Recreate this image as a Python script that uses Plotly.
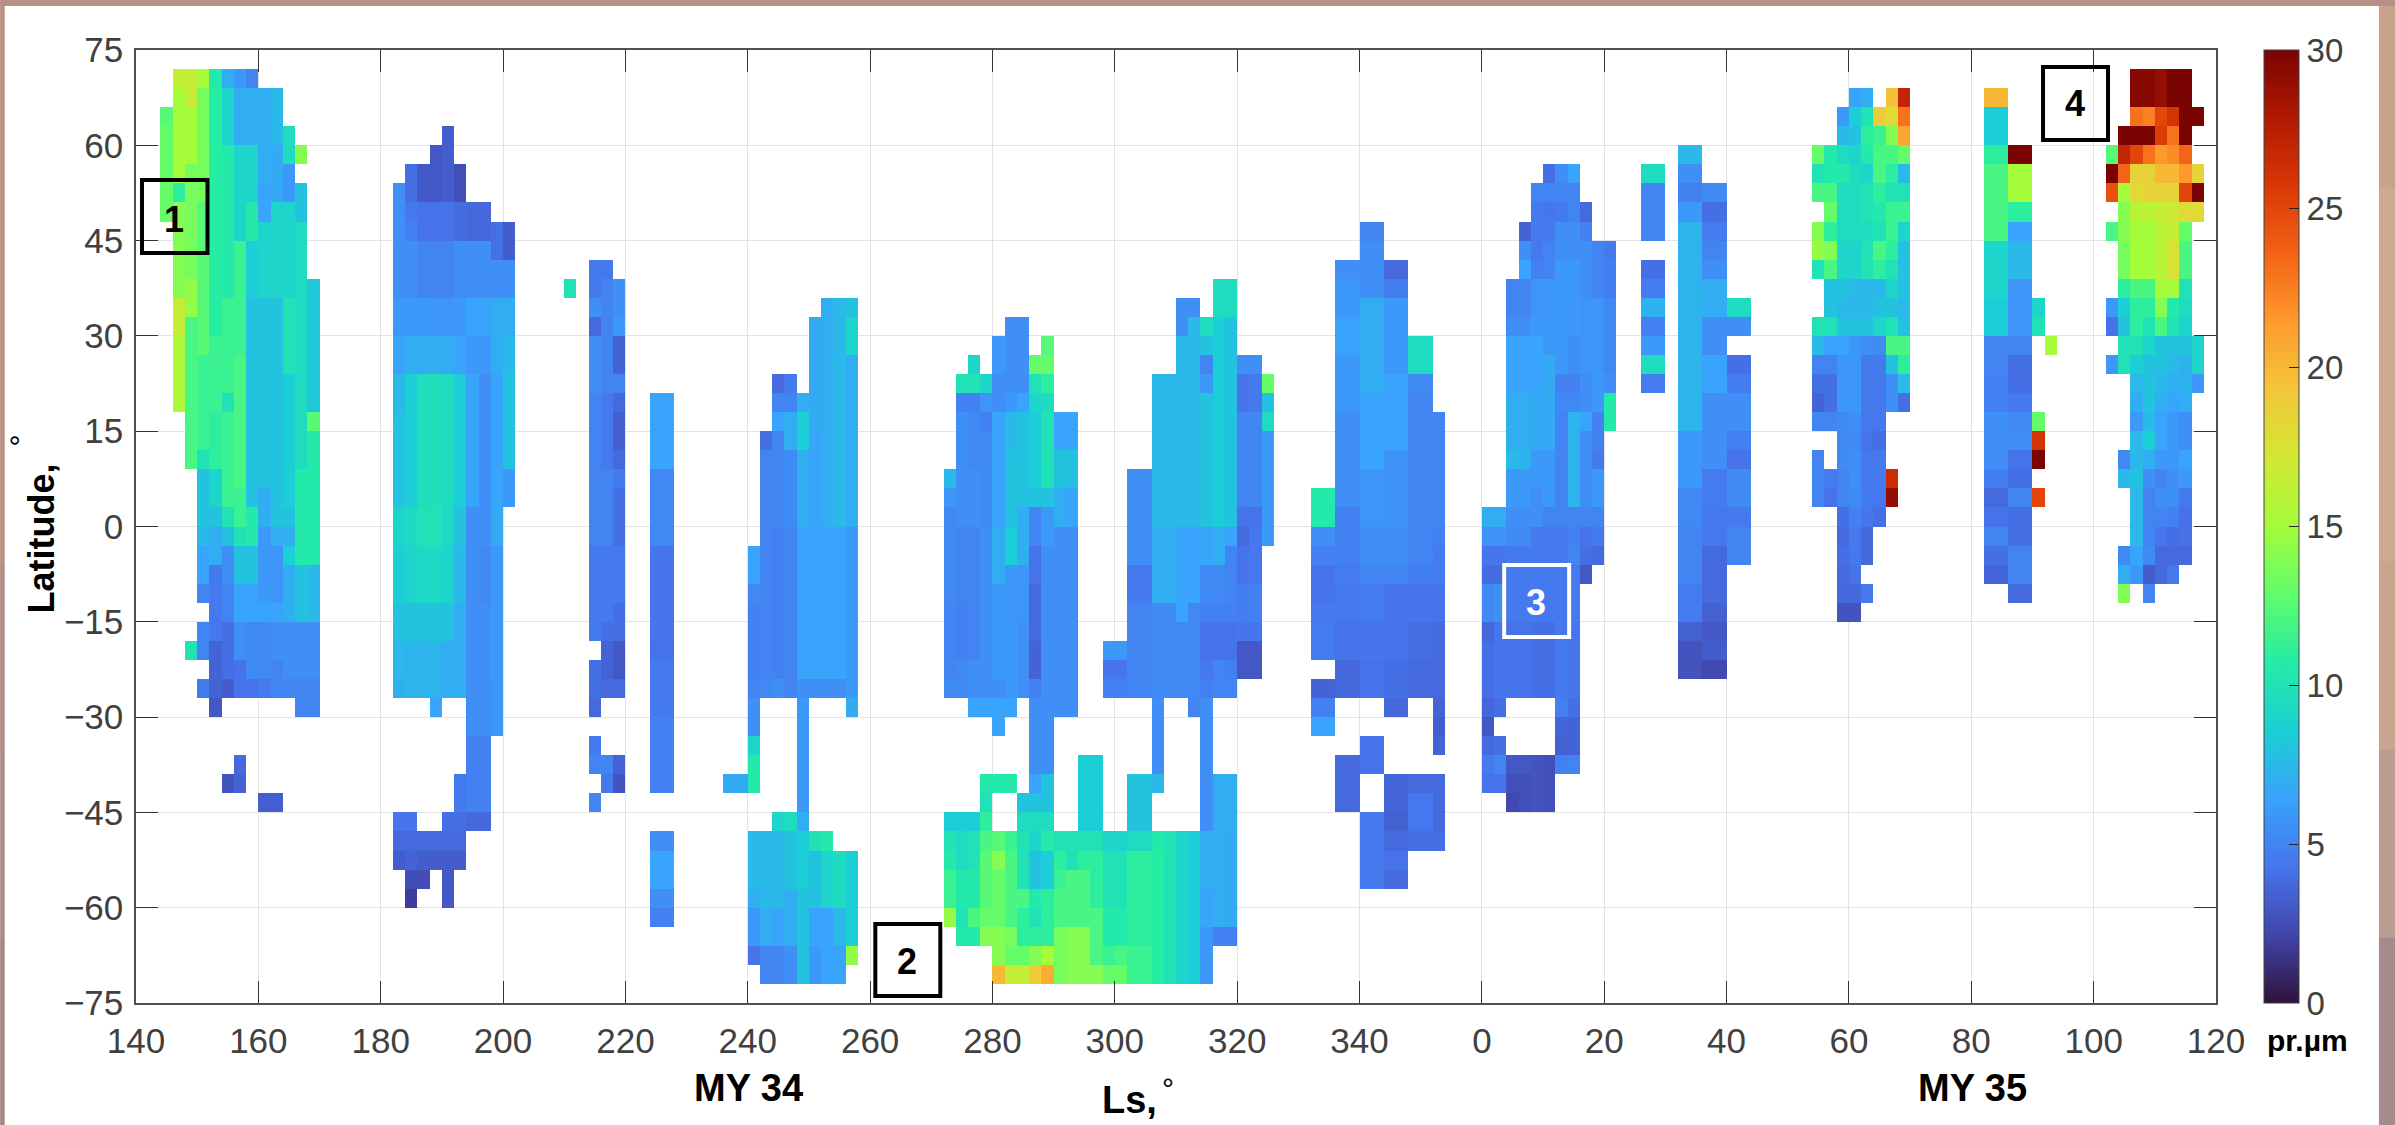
import numpy as np
import plotly.graph_objects as go

W, H = 2395, 1125
L, R, T, B = 135.5, 2216, 50, 1003

ls_tick_values = list(range(140, 481, 20))
ls_tick_labels = ['140','160','180','200','220','240','260','280','300','320','340','0','20','40','60','80','100','120']
lat_ticks = list(range(-75, 76, 15))
cbar_ticks = [0, 5, 10, 15, 20, 25, 30]

# Column form: continuous Ls column start -> flat triples (lat_high, lat_low, pr.um)
swath_a = {
 144:[66,63,12.5, 63,48,13],
 146:[72,69,16.5, 69,54,15, 54,51,11, 51,36,14, 36,30,16.5, 30,18,15.5],
 148:[72,66,16.5, 66,57,15, 57,39,13.5, 39,33,14.5, -18,-21,10, 33,9,12],
 150:[72,69,15, 69,51,13.5, 51,27,12.5, 27,12,11.5, 12,9,10, 9,0,8, 0,-3,7.5, -3,-9,6.5, -9,-12,5, -15,-21,5, -24,-27,4.5],
 152:[72,69,10.5, 69,30,10.8, 30,18,11.5, 18,9,11, 9,3,9, 3,0,8, 0,-6,7, -6,-18,4.5, -18,-27,3.5, -27,-30,3],
 154:[72,69,7, 69,60,9, 60,36,10.5, 36,21,11.5, 21,18,10, 18,3,11.5, 3,0,10, 0,-3,8, -3,-9,5.5, -9,-15,5, -15,-24,4, -24,-27,3.2, -39,-42,2.8],
 156:[72,69,6, 69,60,7, 60,45,9, 45,27,11.5, 27,6,12, 6,0,11.5, 0,-3,10, -3,-9,8, -9,-15,6.5, -15,-21,5.5, -21,-27,4.2, -36,-39,3.8, -39,-42,3.5],
 158:[72,69,5, 69,60,7, 60,51,9, 51,45,10.5, 45,36,8.5, 36,3,8, 3,-3,10.5, -3,-9,8, -9,-15,6.5, -15,-24,5.3, -24,-27,4.2],
 160:[69,54,7, 54,48,6.5, 48,36,9, 36,6,8, 6,0,7, 0,-12,6, -12,-15,6.5, -15,-24,5.3, -24,-27,4.5, -42,-45,3.3],
 162:[69,60,7.5, 60,51,6.8, 51,36,9, 36,0,8, 0,-3,7, -3,-12,5.8, -12,-15,6.5, -15,-21,5.5, -21,-27,5, -42,-45,3.3],
 164:[63,57,9.5, 57,51,6, 51,36,9, 36,24,10, 24,3,8.5, 3,0,8, 0,-3,7, -3,-6,8.5, -6,-15,7, -15,-24,5.5, -24,-27,5],
 166:[60,57,14, 54,48,8, 48,21,9.5, 21,9,9.5, 9,-6,10.5, -6,-15,8, -15,-24,5.5, -24,-30,5],
 168:[39,18,8.3, 18,15,12.5, 15,-6,10.5, -6,-15,7.5, -15,-24,5.5, -24,-30,5],
}
swath_b = {
 182:[54,36,5.5, 36,30,6, 30,24,6.5, 24,18,7.5, 18,3,8, 3,-3,9, -3,-12,8.5, -12,-18,8, -18,-24,7.5, -24,-27,7, -45,-48,4.3, -48,-51,3.8, -51,-54,3.2],
 184:[57,54,4, 54,51,4, 51,48,4.5, 48,45,4.8, 45,36,5.5, 36,30,6, 30,24,7, 24,3,8.5, 3,-3,9.3, -3,-12,9, -12,-18,8, -18,-27,7.3, -45,-48,4.3, -48,-51,3.8, -51,-54,3.5, -54,-57,2.5, -57,-60,1.8],
 186:[57,51,3.1, 51,45,4.2, 45,36,5, 36,30,6, 30,24,7, 24,3,9.7, 3,-3,10, -3,-12,9.3, -12,-18,8, -18,-27,7.3, -48,-51,3.8, -51,-54,3.2, -54,-57,2.5],
 188:[60,51,3, 51,45,4.2, 45,36,5, 36,30,5.8, 30,24,7, 24,3,9.8, 3,-3,10, -3,-12,9.3, -12,-18,8, -18,-27,7.3, -27,-30,6.5, -48,-51,3.8, -51,-54,3.2],
 190:[63,57,3.2, 57,51,3.2, 51,45,4.2, 45,36,5, 36,30,5.8, 30,24,7, 24,3,9.5, 3,-3,9.3, -3,-12,9, -12,-18,8, -18,-27,7, -45,-48,4, -48,-51,3.8, -51,-54,3.2, -54,-60,3],
 192:[57,51,2.6, 51,45,3.9, 45,36,5.5, 36,30,6, 30,24,6.5, 24,3,8.5, 3,-3,8, -3,-12,7.5, -12,-27,7, -39,-45,4.5, -45,-48,4, -48,-51,3.8, -51,-54,3.2],
 194:[51,45,3.7, 45,36,5.5, 36,30,6.5, 30,24,6, 24,3,6.5, 3,-12,5.5, -12,-27,5.5, -27,-33,5.5, -33,-39,4.8, -39,-45,4.8, -45,-48,3.7],
 196:[51,45,3.7, 45,36,5.5, 36,30,6.5, 30,24,6, 24,3,5.5, 3,-3,5.5, -3,-12,5.3, -12,-27,5.5, -27,-33,5.5, -33,-39,4.8, -39,-45,4.8, -45,-48,3.7],
 198:[48,42,4, 42,36,5.5, 36,30,7, 30,24,7, 24,3,6.5, 3,-3,6.8, -3,-24,6, -24,-33,5.9],
 200:[48,42,3.2, 42,36,5.5, 36,30,7, 30,24,7.5, 24,9,8, 9,3,6],
 210:[39,36,10],
}
swath_c = {
 214:[42,36,4.5, 36,33,5.5, 33,30,3.8, 30,21,5.5, 21,12,5, 12,0,5, 0,-3,5, -3,-18,4.5, -21,-27,4, -27,-30,3.8, -33,-36,4.5, -36,-39,5, -42,-45,5],
 216:[42,39,4.5, 39,21,5, 21,9,4.5, 9,-3,5, -3,-15,4.5, -15,-18,4, -18,-24,3.5, -24,-27,3.8, -36,-39,5, -39,-42,4.5],
 218:[39,33,5.5, 33,30,6, 30,24,3.5, 24,21,5, 21,18,3.8, 18,12,3.3, 12,9,3.8, 9,6,4.5, 6,-3,4, -3,-12,4.5, -12,-18,4, -18,-24,3, -24,-27,3.8, -36,-39,3.5, -39,-42,2.8],
 (224,226):[21,9,6.5, 9,-3,5.2, -3,-18,4.3, -18,-21,4.2, -21,-30,4.5, -30,-42,4.8, -48,-51,5.5, -51,-57,6.5, -57,-60,5.5, -60,-63,4.8],
}
swath_d = {
 (236,238):[-39,-42,6.8],
 240:[-3,-9,6.5, -9,-12,5.2, -12,-24,4.8, -24,-27,5, -27,-33,5.5, -33,-36,9, -36,-42,10.5, -48,-57,7.5, -57,-60,7, -60,-66,6, -66,-69,4.2],
 242:[15,12,4, 12,-24,5, -24,-27,5.2, -48,-60,7.5, -60,-66,7, -66,-72,5],
 244:[24,21,3.8, 21,18,5, 18,15,6.5, 15,0,5, 0,-24,4.8, -24,-27,5.5, -45,-48,9, -48,-60,7.5, -60,-66,6.5, -66,-72,5],
 246:[24,21,4.5, 21,18,5, 18,12,7, 12,0,5.3, 0,-27,5, -45,-48,9.5, -48,-57,8, -57,-66,7, -66,-72,5.5],
 248:[21,18,7, 18,12,8.5, 12,0,7, 0,-24,6.5, -24,-27,5.5, -27,-45,6, -45,-48,7, -48,-57,8.5, -57,-72,8],
 250:[33,15,6.8, 15,-24,6.5, -24,-27,5.5, -48,-51,10, -51,-60,8, -60,-66,6.5, -66,-72,6],
 252:[36,0,7, 0,-24,6.5, -24,-27,5.5, -48,-51,10.5, -51,-60,9, -60,-72,6.5],
 254:[36,0,7.5, 0,-24,6.5, -24,-27,5.5, -51,-60,9.5, -60,-66,7.5, -66,-72,6.5],
 256:[36,33,8, 33,27,9, 27,0,7, 0,-27,6, -27,-30,6.8, -51,-66,8.5, -66,-69,14.5],
}
swath_e = {
 272:[9,6,7.5, 6,3,6, 3,-12,5.2, -12,-24,5, -24,-27,5.3, -45,-48,8.5, -48,-51,10, -51,-54,10.5, -54,-60,11.5, -60,-63,14.5],
 274:[24,21,10, 21,18,4.8, 18,0,5.5, 0,-12,5, -12,-21,4.8, -21,-27,5.2, -45,-48,8.5, -48,-54,9.5, -54,-60,10.5, -60,-63,10, -63,-66,10.5],
 276:[27,24,9, 24,21,10, 21,18,4.8, 18,9,5.2, 9,0,5.5, 0,-21,5, -21,-27,5.5, -27,-30,6.5, -45,-48,8.5, -48,-54,10, -54,-60,10.5, -60,-63,12, -63,-66,10.5],
 278:[24,21,9, 21,18,5.8, 18,15,4.8, 15,0,5.3, 0,-27,5.5, -27,-30,6.5, -39,-42,10.5, -42,-45,10, -45,-48,11, -48,-51,12, -51,-60,12.5, -60,-63,13, -63,-66,14],
 280:[30,24,6, 24,18,5.5, 18,0,6.5, 0,-9,7, -9,-24,6, -24,-27,5.5, -27,-33,6.5, -39,-42,10.5, -48,-51,12.5, -51,-54,14, -54,-63,13, -63,-69,14, -69,-72,20],
 282:[33,21,5.5, 21,18,6, 18,12,7.5, 12,0,8, 0,-6,8.5, -6,-27,6, -27,-30,6.5, -39,-42,10.5, -48,-51,11.5, -51,-63,12, -63,-66,13.5, -66,-69,13, -69,-72,16.5],
 284:[33,21,5.5, 21,18,6.5, 18,3,8, 3,-6,7, -6,-15,5.8, -15,-27,5.5, -42,-45,8, -45,-48,9.5, -48,-57,10, -57,-60,12, -60,-66,11, -66,-69,13, -69,-72,16.5],
 286:[27,24,13, 24,21,10, 21,18,9, 18,6,8.5, 6,3,8, 3,-3,5, -3,-9,4.2, -9,-18,3.8, -18,-24,3.5, -24,-27,4.8, -27,-39,5.5, -39,-42,6.5, -42,-45,8, -45,-48,9.5, -48,-51,9, -51,-57,8, -57,-60,10.5, -60,-63,10, -63,-66,11, -66,-69,14, -69,-72,19],
 288:[30,27,12.5, 27,24,13, 24,21,11, 21,18,9.5, 18,6,10, 6,3,8, 3,-3,6, -3,-27,5.5, -27,-39,5.5, -39,-45,8, -45,-48,9.5, -48,-51,10.5, -51,-57,8.5, -57,-66,11, -66,-69,15, -69,-72,20.5],
 290:[18,12,6.5, 12,6,8, 6,0,7, 0,-30,5.5, -48,-51,10, -51,-54,11, -54,-57,11.5, -57,-63,12, -63,-72,13.5],
 292:[18,12,6.5, 12,6,8, 6,0,6.5, 0,-30,5.5, -48,-54,10, -54,-63,12, -63,-72,14],
 294:[-36,-48,8.5, -48,-51,10, -51,-54,11, -54,-63,12, -63,-72,14],
 296:[-36,-48,8.5, -48,-51,10, -51,-60,11, -60,-69,12, -69,-72,14],
 298:[-18,-21,6, -21,-24,4.3, -24,-27,4.8, -48,-51,9, -51,-60,10, -60,-66,10.5, -66,-69,11.5, -69,-72,13],
 300:[-18,-21,6, -21,-24,4.3, -24,-27,4.8, -48,-51,9, -51,-60,10, -60,-66,10.5, -66,-69,12, -69,-72,13],
 302:[9,-6,5.5, -6,-12,4.5, -12,-27,5, -39,-48,8, -48,-51,9.5, -51,-66,11, -66,-72,11.5],
 304:[9,-6,5.5, -6,-12,4.5, -12,-27,5, -39,-48,8, -48,-51,9.5, -51,-66,11, -66,-72,11.5],
 306:[24,0,7.5, 0,-12,7, -12,-27,5.3, -27,-42,5.5, -39,-42,7.5, -48,-51,10.5, -51,-72,10.8],
 308:[24,0,7.5, 0,-12,7, -12,-27,5.3, -48,-72,10],
 310:[36,30,5.5, 30,0,7.5, 0,-15,6.5, -15,-27,5.2, -48,-72,9],
 312:[36,33,5.5, 33,0,7.5, 0,-12,6.5, -12,-27,5.2, -27,-30,5, -48,-72,8.5],
 314:[33,30,9.5, 30,27,8, 27,24,5, 24,21,6, 21,0,8, 0,-6,6.5, -6,-12,5.2, -12,-15,4.8, -15,-21,4.2, -21,-24,4.5, -24,-27,4.8, -27,-48,5.5, -48,-57,7, -57,-63,6.5, -63,-72,6],
 316:[39,33,9.5, 33,0,8.5, 0,-6,7, -6,-12,5.2, -12,-15,4.8, -15,-21,4.2, -21,-27,5, -39,-48,7, -48,-63,7, -63,-66,4.8],
 318:[39,33,9.5, 33,0,8, 0,-3,6.5, -3,-12,5, -12,-15,4.8, -15,-21,4.2, -21,-24,4.8, -24,-27,5, -39,-48,7, -48,-63,6.8, -63,-66,4.8],
 320:[27,24,5.5, 24,18,4.2, 18,3,5, 3,0,4.2, 0,-3,3.8, -3,-9,4.2, -9,-15,4.7, -15,-18,4.3, -18,-24,3],
 322:[27,24,5.5, 24,18,4.5, 18,3,5.1, 3,0,4.2, 0,-9,4.4, -9,-15,4.8, -15,-18,4.3, -18,-24,3],
 324:[24,21,13, 21,18,8, 18,15,9.5, 15,-3,6],
}
swath_f = {
 (332,334):[6,0,10.5, 0,-3,5.5, -3,-6,4.8, -6,-12,4.2, -12,-15,4.5, -15,-21,4.6, -24,-27,3.5, -27,-30,4.8, -30,-33,6.5],
 (336,338):[42,39,5.5, 39,33,6, 33,27,6.5, 27,18,6, 18,3,5.5, 3,-6,4.8, -6,-9,4.6, -9,-15,4.4, -15,-21,4.2, -21,-27,3.7, -36,-45,3.8],
 (340,342):[48,45,5, 45,36,5.5, 36,21,7, 21,9,6.5, 9,0,5.8, 0,-6,5.5, -6,-9,5, -9,-15,4.6, -15,-21,4.3, -21,-27,4.2, -33,-39,4.2, -45,-57,4.5],
 (344,346):[42,39,3.8, 39,36,4.7, 36,24,6, 24,12,6.5, 12,0,5.7, 0,-6,5.5, -6,-9,5, -9,-15,4.3, -15,-21,4.2, -21,-27,4, -27,-30,3.7, -39,-45,3.6, -45,-48,3.4, -48,-51,3.8, -51,-54,4.2, -54,-57,3.8],
 (348,350):[30,24,9.5, 24,21,5.3, 21,-6,5, -6,-9,4.7, -9,-15,4.3, -15,-21,4, -21,-27,3.8, -39,-42,3.8, -42,-48,4.4, -48,-51,4],
 352:[18,0,5, 0,-3,4.8, -3,-9,4.6, -9,-15,4.2, -15,-27,3.8, -27,-30,3.5, -30,-33,3.2, -33,-36,3.5, -39,-48,3.8, -48,-51,4],
}
swath_g = {
 360:[3,0,7, 0,-3,5.7, -3,-6,4.3, -6,-9,3.9, -9,-15,5.2, -15,-18,3.6, -18,-27,4, -27,-30,3.6, -30,-33,3, -33,-36,3.8, -36,-39,4.5, -39,-42,4.2],
 362:[3,0,7, 0,-3,5.7, -3,-6,4.3, -6,-9,3.9, -9,-15,5.5, -15,-27,4.3, -27,-30,4, -33,-36,4, -36,-39,5, -39,-42,4.2],
 364:[39,33,5, 33,30,5.5, 30,21,6.5, 21,12,7, 12,9,7.5, 9,3,6, 3,0,5.5, 0,-3,5.3, -3,-15,4.5, -15,-27,4.2, -36,-39,3, -39,-42,2.6, -42,-45,2.3],
 366:[48,45,3.5, 45,42,5.5, 42,39,6.5, 39,33,5, 33,30,5.5, 30,21,6.5, 21,12,7, 12,9,7.2, 9,3,6, 3,0,5.5, 0,-3,5.3, -3,-15,4.5, -15,-27,4.2, -36,-39,3, -39,-45,2.6],
 368:[54,51,5, 51,42,4.5, 42,39,4.8, 39,33,5.8, 33,30,6, 30,21,6.5, 21,12,6.8, 12,6,6, 6,0,5.5, 0,-15,4.5, -15,-27,4, -36,-45,2.8],
 370:[57,54,4, 54,51,5, 51,48,4.3, 48,45,4.5, 45,39,5, 39,27,6, 27,12,6.8, 12,3,6, 3,0,5, 0,-15,4.5, -15,-27,4, -36,-45,2.6],
 372:[57,54,5.5, 54,51,5, 51,48,4.5, 48,42,5.5, 42,24,6, 24,21,4.8, 21,18,5.2, 18,0,5, 0,-27,4.5, -27,-30,4.8, -30,-33,3.6, -33,-36,3.4, -36,-39,4.8],
 374:[57,54,6.5, 54,48,5, 48,42,5.5, 42,30,6, 30,24,5.5, 24,21,4.8, 21,18,5.2, 18,3,7.3, 3,0,5, 0,-3,4.8, -3,-6,5, -6,-15,4.5, -15,-27,4.3, -27,-30,4, -30,-36,3.5, -36,-39,5],
 376:[51,48,3.8, 48,45,4.8, 45,36,5.5, 36,24,5.8, 24,18,5.5, 18,15,6.5, 15,3,5.5, 3,0,5, 0,-3,4.2, -3,-6,4, -6,-9,3],
 378:[45,36,5, 36,24,5.8, 24,18,6, 18,12,4.8, 12,9,4.5, 9,3,6, 3,0,5, 0,-3,4.5, -3,-6,3.8],
 380:[45,42,4.5, 42,36,4.7, 36,24,5.2, 24,21,5.5, 21,15,10.5],
 (386,388):[57,54,9.5, 54,45,5, 42,39,4, 39,36,4.6, 36,33,7.2, 33,30,4.8, 30,27,6, 27,24,9.5, 24,21,4.6],
 (392,394):[60,57,7.5, 57,54,5.5, 54,51,4.8, 51,48,6, 48,15,7.3, 15,6,6, 6,0,5.2, 0,-9,5, -9,-15,4.6, -15,-18,3.4, -18,-24,2.8],
 (396,398):[54,51,5.3, 51,48,4, 48,45,4.6, 45,42,5, 42,39,5.5, 39,33,7, 33,27,5.5, 27,21,6.5, 21,9,5.5, 9,3,4.6, 3,-3,4.4, -3,-12,3.8, -12,-15,3.4, -15,-18,3, -18,-21,3.2, -21,-24,2.3],
 (400,402):[36,33,9.5, 33,30,5.5, 27,24,4, 24,21,4.7, 21,15,5.5, 15,12,4.8, 12,9,4.2, 9,3,5.3, 3,0,4.5, 0,-6,5],
}
swath_h = {
 414:[60,57,13, 57,54,10, 54,51,12, 48,45,14, 45,42,14.5, 42,39,10, 33,30,10, 30,27,7.5, 27,24,5, 24,21,4, 21,18,3.5, 18,15,5, 12,3,5],
 416:[60,54,10.5, 54,51,12, 51,48,13, 48,45,11, 45,42,14, 42,39,12, 39,33,8, 33,30,10, 30,27,6.5, 27,24,5, 24,18,4, 18,15,5, 9,6,4.6, 6,3,4.2],
 418:[66,63,6, 63,60,7.5, 60,57,9.5, 57,54,10.5, 54,45,9.5, 45,39,9, 39,36,8, 36,33,7.5, 33,30,8, 30,27,6.5, 27,18,5.9, 18,9,5.3, 9,3,5, 3,0,4, 0,-3,3.8, -3,-6,4, -6,-9,3.8, -9,-12,3.7, -12,-15,2.8],
 420:[69,66,6.5, 66,63,8.5, 63,60,8, 60,57,9, 57,45,9.5, 45,39,9, 39,33,7.5, 33,30,8, 30,18,5.9, 18,15,5.5, 15,12,5.3, 12,6,5.5, 6,3,5.3, 3,0,4.8, 0,-3,4.5, -3,-6,4.4, -6,-9,4.2, -9,-12,3.7, -12,-15,2.8],
 422:[69,66,7, 66,63,10, 63,60,11, 60,57,10.5, 57,54,9, 54,48,10, 48,45,9.5, 45,39,10, 39,33,7.5, 33,30,8, 30,27,5.5, 27,18,4.5, 18,15,4.4, 15,12,4.2, 12,6,4.4, 6,3,4.5, 3,0,4.3, 0,-6,3.7, -9,-12,4.5],
 424:[66,63,19, 63,60,11.5, 60,57,12, 57,54,12, 54,51,11, 51,48,10.5, 48,45,10, 45,42,12, 42,39,11, 39,36,7.5, 36,33,8, 33,30,9, 30,27,5.3, 27,18,4.5, 18,15,4.4, 15,12,4, 12,6,4.5, 6,3,4.4, 3,0,4],
 426:[69,66,19.5, 66,63,18, 63,60,14, 60,57,12, 57,54,11, 54,51,10, 51,45,11.5, 45,42,11, 42,39,10, 39,36,9, 36,33,8, 33,30,10, 30,27,12, 27,24,8, 24,18,5.5, 9,6,26.5, 6,3,29],
 428:[69,66,27, 66,63,23, 63,60,21, 60,57,13, 57,54,7.5, 54,51,10, 51,48,11.5, 48,45,9, 45,39,8, 39,36,8, 36,33,7.5, 33,30,8, 30,27,12, 27,24,11, 24,21,7.5, 21,18,4],
 (442,444):[69,66,20, 66,60,8.5, 60,57,11, 57,45,12, 45,36,9, 36,30,8.5, 30,24,5, 24,18,4.8, 18,9,5.5, 9,6,4.7, 6,3,3.8, 3,0,4.2, 0,-3,5, -3,-6,4, -6,-9,3.6],
 (446,448):[60,57,30, 57,51,15, 51,48,11, 48,45,6.5, 45,39,7.5, 39,30,5.8, 30,27,5, 27,21,4, 21,18,4.5, 18,15,5.2, 15,12,5.5, 12,9,4.2, 9,6,4, 6,3,5, 3,-3,4, -3,-9,5, -9,-12,3.8],
 450:[36,33,9, 33,30,10, 18,15,13, 15,12,26, 12,9,30, 6,3,25],
 452:[30,27,15],
}
swath_i = {
 462:[60,57,12.5, 57,54,30, 54,51,24.5, 48,45,12, 36,33,6, 33,30,4.2, 27,24,6],
 464:[63,60,30, 60,57,27, 57,54,23.5, 54,51,15, 51,48,14, 48,45,14, 45,39,13.5, 39,36,11, 36,33,8.5, 33,30,8, 30,24,10, 12,9,5.3, 9,6,7.5, -3,-6,5.3, -6,-9,7, -9,-12,14],
 466:[72,66,29.5, 66,63,23, 63,60,30, 60,57,25, 57,54,18.5, 54,51,18, 51,48,16, 48,39,15, 39,36,12, 36,30,11, 30,27,10, 27,24,8.5, 24,21,7.5, 21,18,7, 18,15,6, 15,9,7.5, 9,6,8, 6,0,7.5, 0,-3,7.5, -3,-6,6.5, -6,-9,6],
 468:[72,66,29.5, 66,63,22.5, 63,60,30, 60,57,23, 57,51,18.5, 51,48,16, 48,39,15, 39,36,12, 36,33,11, 33,30,10, 30,27,9, 27,21,8, 21,18,8, 18,15,7.5, 15,12,8.5, 12,9,7, 9,6,5.5, 6,0,5, 0,-3,5, -3,-6,5.3, -6,-9,3.2, -9,-12,5],
 470:[72,66,29, 66,63,25, 63,60,25.5, 60,57,21.5, 57,54,20, 54,51,18.5, 51,48,16.5, 48,39,16, 39,36,15, 36,33,14, 33,30,12, 30,24,8, 24,21,7.5, 21,18,7, 18,12,6.5, 12,9,6, 9,6,5, 6,3,5.5, 3,0,5, 0,-3,4.3, -3,-9,3.8],
 472:[72,66,30, 66,63,26, 63,60,23, 60,57,22, 57,54,20, 54,51,18.5, 51,48,17, 48,45,16.5, 45,39,17.5, 39,36,15, 36,33,10.5, 33,30,10, 30,27,8, 27,24,7.5, 24,21,7, 21,18,6.5, 18,9,6, 9,3,5.5, 3,0,4.8, 0,-3,4, -3,-6,3.8, -6,-9,4.4],
 474:[72,66,30, 66,60,30, 60,57,23.5, 57,54,21.5, 54,51,25, 51,48,18, 48,45,13, 45,39,12, 39,36,10, 36,33,9.5, 33,30,9, 30,27,8, 27,21,7.2, 21,18,7, 18,12,5.5, 12,9,6.5, 9,6,6, 6,3,4.5, 3,-3,4.1, -3,-6,3.8],
 476:[66,63,30, 57,54,18.5, 54,51,30, 51,48,18, 30,24,9, 24,21,6],
}
swaths = [swath_a, swath_b, swath_c, swath_d, swath_e, swath_f, swath_g, swath_h, swath_i]

ls_edges = np.arange(140, 482, 2)
lat_edges = np.arange(-75, 78, 3)
z = np.full((len(lat_edges) - 1, len(ls_edges) - 1), np.nan)
for swath in swaths:
    for key, flat in swath.items():
        cols = key if isinstance(key, tuple) else (key,)
        for c in cols:
            ci = (c - 140) // 2
            for k in range(0, len(flat), 3):
                hi, lo, v = flat[k:k + 3]
                z[(lo + 75) // 3:(hi + 75) // 3, ci] = v

FONT = 'Liberation Sans'
fig = go.Figure(go.Heatmap(
    x=ls_edges, y=lat_edges, z=z, zmin=0, zmax=30, colorscale='Turbo', hoverongaps=False,
    colorbar=dict(x=(2264 - L) / (R - L), xanchor='left', xpad=0, ypad=0, y=0.5, yanchor='middle',
                  len=1, lenmode='fraction', thickness=35, thicknessmode='pixels',
                  tickmode='array', tickvals=cbar_ticks, ticks='inside', ticklen=10, tickwidth=1,
                  tickcolor='#222222', outlinecolor='#404040', outlinewidth=1,
                  tickfont=dict(family=FONT, size=33, color='#404040')),
))

def fx(px): return (px - L) / (R - L)
def fy(py): return (B - py) / (B - T)

def label(px, py, text, size, color='black', bold=True, angle=0):
    fig.add_annotation(xref='paper', yref='paper', x=fx(px), y=fy(py), text=f'<b>{text}</b>' if bold else text,
                       showarrow=False, xanchor='center', yanchor='middle', textangle=angle,
                       font=dict(family=FONT, size=size, color=color))

def box(x0, y0, x1, y1, color):
    fig.add_shape(type='rect', xref='paper', yref='paper', x0=fx(x0), x1=fx(x1), y0=fy(y0), y1=fy(y1),
                  line=dict(color=color, width=4), fillcolor='rgba(0,0,0,0)', layer='above')

def strip(x0, y0, x1, y1, color):
    fig.add_shape(type='rect', xref='paper', yref='paper', x0=fx(x0), x1=fx(x1), y0=fy(y0), y1=fy(y1),
                  line=dict(width=0), fillcolor=color, layer='below')

# page frame: white sheet over a brown backdrop that fades towards the bottom
strip(4, 6, 2379, H, 'white')
right_strip_colors = ['#c9a28c', '#cfa890', '#cfa890', '#c9a48e', '#bb9c92', '#a48b8c']
left_strip_colors = ['#b8908a', '#b8938c', '#b8938c', '#ae8f8e', '#a68e92', '#a08a90']
n = len(right_strip_colors)
for i in range(n):
    strip(2379, H * i / n, W, H * (i + 1) / n, right_strip_colors[i])
    strip(0, H * i / n, 4, H * (i + 1) / n, left_strip_colors[i])
strip(0, 0, W, 6, '#b89088')

label(40, 539, 'Latitude,', 36, angle=-90)
label(20, 441, '°', 30, angle=-90, bold=False)
label(1129, 1100, 'Ls,', 38)
label(1168, 1088, '°', 30, bold=False)
label(748, 1088, 'MY 34', 38)
label(1972, 1088, 'MY 35', 38)
label(2308, 1040, 'pr.µm', 30)
box(141.5, 180, 207, 253, 'black');   label(174, 219, '1', 36)
box(875, 924, 940, 996, 'black');     label(907, 961, '2', 36)
box(1504, 565, 1569, 637, 'white');   label(1536, 602, '3', 36, color='white')
box(2043, 67, 2108, 140, 'black');    label(2075, 104, '4', 36)

common = dict(showline=True, linecolor='#505050', linewidth=1.5, mirror='ticks', ticks='inside', ticklen=22,
              tickwidth=1, tickcolor='#333333', showgrid=True, gridcolor='#e3e3e3', gridwidth=1, zeroline=False,
              tickfont=dict(family=FONT, size=35, color='#404040'))
fig.update_xaxes(range=[140, 480], tickmode='array', tickvals=ls_tick_values, ticktext=ls_tick_labels,
                 ticklabelstandoff=6, **common)
fig.update_yaxes(range=[-75, 75], tickmode='array', tickvals=lat_ticks, ticklabelstandoff=4, **common)
fig.update_layout(width=W, height=H, autosize=False, margin=dict(l=L, r=W - R, t=T, b=H - B),
                  paper_bgcolor='#c8a28c', plot_bgcolor='white')

fig.write_html('out.html', post_script="document.body.style.margin='0';document.body.style.overflow='hidden';",
               config={'displayModeBar': False})
